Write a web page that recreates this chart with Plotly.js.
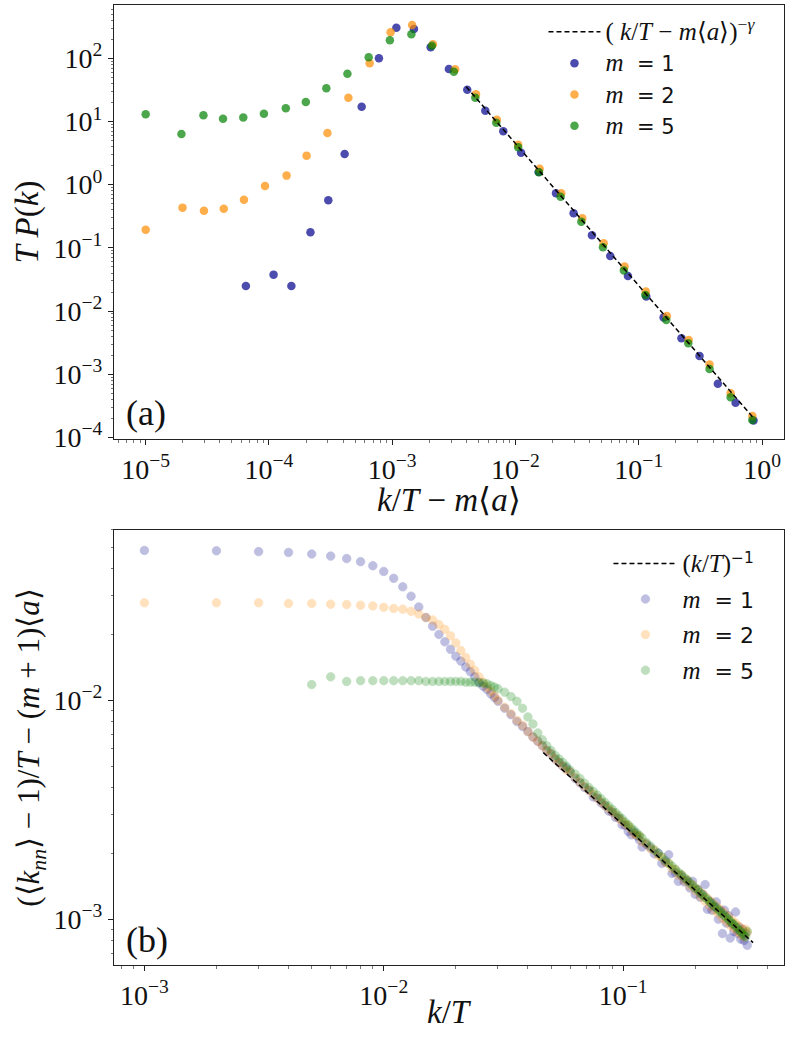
<!DOCTYPE html>
<html>
<head>
<meta charset="utf-8">
<script src="https://cdn.plot.ly/plotly-3.0.1.min.js"></script>
<style>
  body { margin: 0; background: #fff; }
  #plot { width: 794px; height: 1039px; }
</style>
</head>
<body>
<div id="plot"></div>
<script>
// ---- panel (a): T P(k) against k/T - m<a> ----
var xA1 = [6.5e-5, 1.09e-4, 1.52e-4, 2.17e-4, 3.03e-4, 4.11e-4, 5.65e-4, 7.80e-4, 1.08e-3, 1.50e-3,
           2.05e-3, 2.88e-3, 4.06e-3, 5.69e-3, 7.96e-3, 1.11e-2, 1.54e-2, 2.13e-2, 2.96e-2, 4.17e-2,
           5.87e-2, 8.17e-2, 0.115, 0.159, 0.222, 0.311, 0.438, 0.610, 0.853];
var yA1 = [0.0249, 0.0377, 0.0249, 0.177, 0.566, 3.06, 17.1, 100, 305, 291,
           149, 67.6, 31.8, 14.8, 7.0, 3.21, 1.58, 0.731, 0.353, 0.158,
           0.0745, 0.0359, 0.0170, 0.00794, 0.00372, 0.00195, 7.08e-4, 3.55e-4, 1.86e-4];

var xA2 = [1.0e-5, 1.99e-5, 2.97e-5, 4.30e-5, 6.27e-5, 9.29e-5, 1.39e-4, 2.02e-4, 2.98e-4, 4.41e-4,
           6.56e-4, 9.70e-4, 1.45e-3, 2.14e-3, 3.24e-3, 4.78e-3, 7.06e-3, 1.05e-2, 1.57e-2, 2.35e-2,
           3.48e-2, 5.19e-2, 7.67e-2, 0.114, 0.169, 0.254, 0.375, 0.556, 0.834];
var yA2 = [0.194, 0.433, 0.388, 0.417, 0.579, 0.955, 1.39, 2.88, 6.58, 23.8,
           83.4, 258, 337, 167, 67.0, 26.9, 10.6, 4.30, 1.79, 0.731,
           0.294, 0.118, 0.0505, 0.0203, 0.00836, 0.00349, 0.00142, 5.01e-4, 2.19e-4];

var xA5 = [1.0e-5, 1.95e-5, 2.94e-5, 4.24e-5, 6.19e-5, 9.1e-5, 1.37e-4, 1.99e-4, 2.92e-4, 4.33e-4,
           6.44e-4, 9.57e-4, 1.43e-3, 2.10e-3, 3.16e-3, 4.72e-3, 6.98e-3, 1.05e-2, 1.55e-2, 2.32e-2,
           3.42e-2, 5.12e-2, 7.57e-2, 0.113, 0.167, 0.252, 0.375, 0.556, 0.834];
var yA5 = [13.0, 6.34, 12.5, 11.0, 11.6, 13.3, 16.2, 20.4, 33.5, 57.0,
           104, 193, 240, 158, 61.4, 23.8, 9.57, 3.91, 1.57, 0.646,
           0.260, 0.102, 0.0437, 0.0180, 0.00724, 0.00309, 0.00121, 4.33e-4, 1.89e-4];

// dashed power law, ends
var fitAx = [0.00398, 0.835];
var fitAy = [35.5, 2.13e-4];

// ---- panel (b): (<k_nn> - 1)/T - (m+1)<a> against k/T ----
var T = 1000;
var kB12 = [1, 2, 3, 4, 5, 6, 7, 8, 9, 10, 11, 12, 13, 14, 15, 16, 17, 18, 19, 20,
            21, 22, 23, 24, 25, 26, 27, 28, 29, 30,
            32, 34, 36, 38, 40, 42, 44, 46, 48, 50, 52, 54, 56, 58, 60,
            63, 66, 69, 72, 75, 78, 81, 84, 87, 90, 93, 96, 99, 102, 105, 108, 111, 114, 117, 120,
            125, 130, 135, 140, 145, 150, 155, 160, 165, 170, 175, 180, 185, 190, 195, 200, 205, 210, 215, 220,
            225, 230, 235, 240, 245, 250, 255, 260, 265, 270, 275, 280, 285, 290, 295, 300, 305, 310, 315, 320,
            325, 330];
var yB1 = [0.0484, 0.0482, 0.0478, 0.0474, 0.0466, 0.0456, 0.0444, 0.0430, 0.0412, 0.0388,
           0.0361, 0.0330, 0.0299, 0.0267, 0.0239, 0.0218, 0.0200, 0.0185, 0.0171, 0.0159,
           0.0151, 0.0142, 0.0135, 0.0128, 0.0121, 0.0116, 0.0112, 0.0107, 0.0103, 0.0099,
           0.0092, 0.0086, 0.0080, 0.0076, 0.0072, 0.0068, 0.0065, 0.0062, 0.0059, 0.0057,
           0.0054, 0.0052, 0.0050, 0.0049, 0.0047,
           0.00440, 0.00420, 0.00400, 0.00388, 0.00362, 0.00358, 0.00340, 0.00330, 0.00312, 0.00308,
           0.00292, 0.00289, 0.00270, 0.00268, 0.00252, 0.00243, 0.00250, 0.00240, 0.00230, 0.00214,
           0.00220, 0.00212, 0.00199, 0.00201, 0.00180, 0.00183, 0.00197, 0.00162, 0.00163, 0.00149,
           0.00158, 0.00148, 0.00150, 0.00139, 0.00149, 0.00130, 0.00137, 0.00126, 0.00130, 0.00144,
           0.00111, 0.00121, 0.00110, 0.00114, 0.00120, 0.00100, 0.00110, 0.00086, 0.00110, 0.00096,
           0.00104, 0.00082, 0.00095, 0.00088, 0.00108, 0.00086, 0.00092, 0.00081, 0.00090, 0.00080,
           0.00086, 0.00076];
var yB2 = [0.0279, 0.0279, 0.0279, 0.0277, 0.0277, 0.0275, 0.0274, 0.0272, 0.0270, 0.0266,
           0.0263, 0.0261, 0.0255, 0.0248, 0.0239, 0.0233, 0.0222, 0.0211, 0.0197, 0.0183,
           0.0169, 0.0157, 0.0146, 0.0137, 0.0128, 0.0121, 0.0115, 0.0110, 0.0105, 0.0100,
           0.0093, 0.0087, 0.0081, 0.0077, 0.0072, 0.0068, 0.0065, 0.0062, 0.0059, 0.0057,
           0.0054, 0.0052, 0.0050, 0.0048, 0.0047,
           0.00444, 0.00423, 0.00404, 0.00388, 0.00372, 0.00357, 0.00344, 0.00331, 0.00320, 0.00310,
           0.00300, 0.00290, 0.00281, 0.00272, 0.00268, 0.00257, 0.00245, 0.00243, 0.00240, 0.00226,
           0.00221, 0.00210, 0.00207, 0.00195, 0.00192, 0.00181, 0.00180, 0.00170, 0.00169, 0.00159,
           0.00160, 0.00150, 0.00152, 0.00142, 0.00144, 0.00135, 0.00137, 0.00127, 0.00131, 0.00121,
           0.00125, 0.00115, 0.00120, 0.00110, 0.00115, 0.00106, 0.00111, 0.00101, 0.00107, 0.00098,
           0.00103, 0.00094, 0.00099, 0.00091, 0.00096, 0.00088, 0.00093, 0.00085, 0.00090, 0.00083,
           0.00090, 0.00087];

var kB5 = [5, 6, 7, 8, 9, 10, 11, 12, 13, 14, 15, 16, 17, 18, 19, 20,
           21, 22, 23, 24, 25, 26, 27, 28, 29, 30,
           32, 34, 36, 38, 40, 42, 44, 46, 48, 50, 52, 54, 56, 58, 60,
           63, 66, 69, 72, 75, 78, 81, 84, 87, 90, 93, 96, 99, 102, 105, 108, 111, 114, 117, 120,
           125, 130, 135, 140, 145, 150, 155, 160, 165, 170, 175, 180, 185, 190, 195, 200, 205, 210, 215, 220,
           225, 230, 235, 240, 245, 250, 255, 260, 265, 270, 275, 280, 285, 290, 295, 300, 305, 310, 315, 320,
           325, 330];
var yB5 = [0.0118, 0.0128, 0.0122, 0.0123, 0.0123, 0.0123, 0.0123, 0.0123, 0.0123, 0.0123,
           0.0122, 0.0122, 0.0122, 0.0122, 0.0122, 0.0122, 0.0122, 0.0121, 0.0121, 0.0121,
           0.0120, 0.0120, 0.0119, 0.0117, 0.0115, 0.0113,
           0.0109, 0.0104, 0.0099, 0.0092, 0.0084, 0.0078, 0.0071, 0.0066, 0.0062, 0.0059,
           0.0056, 0.0054, 0.0052, 0.0050, 0.0048,
           0.00460, 0.00440, 0.00418, 0.00400, 0.00384, 0.00369, 0.00355, 0.00341, 0.00329, 0.00318,
           0.00307, 0.00297, 0.00288, 0.00278, 0.00270, 0.00262, 0.00255, 0.00248, 0.00241, 0.00235,
           0.00224, 0.00216, 0.00207, 0.00200, 0.00193, 0.00186, 0.00180, 0.00175, 0.00169, 0.00164,
           0.00160, 0.00155, 0.00151, 0.00147, 0.00143, 0.00139, 0.00136, 0.00132, 0.00129, 0.00126,
           0.00123, 0.00120, 0.00118, 0.00115, 0.00113, 0.00110, 0.00108, 0.00106, 0.00104, 0.00102,
           0.00100, 0.00098, 0.00096, 0.00095, 0.00093, 0.00091, 0.00089, 0.00088, 0.00086, 0.00084,
           0.00083, 0.00088];

var fitBx = [0.0464, 0.349];
var fitBy = [0.00577, 0.000782];

// tick labels
var tickAx = [1e-5, 1e-4, 1e-3, 1e-2, 1e-1, 1];
var labAx = ['10<sup>\u22125</sup>', '10<sup>\u22124</sup>', '10<sup>\u22123</sup>',
             '10<sup>\u22122</sup>', '10<sup>\u22121</sup>', '10<sup>0</sup>'];
var tickAy = [1e-4, 1e-3, 1e-2, 1e-1, 1, 10, 100];
var labAy = ['10<sup>\u22124</sup>', '10<sup>\u22123</sup>', '10<sup>\u22122</sup>',
             '10<sup>\u22121</sup>', '10<sup>0</sup>', '10<sup>1</sup>', '10<sup>2</sup>'];
var tickBx = [1e-3, 1e-2, 1e-1];
var labBx = ['10<sup>\u22123</sup>', '10<sup>\u22122</sup>', '10<sup>\u22121</sup>'];
var tickBy = [1e-3, 1e-2];
var labBy = ['10<sup>\u22123</sup>', '10<sup>\u22122</sup>'];

function minorTicks(lo, hi) {
    var out = [];
    for (var e = lo; e <= hi; e++) {
        for (var j = 2; j <= 9; j++) out.push(j * Math.pow(10, e));
    }
    return out;
}
function overT(ks) {
    return ks.map(function(k) { return k / T; });
}

var serif = 'Liberation Serif';
var sans = 'DejaVu Sans';
function mLabel(n) {
    return '<span style="font-family:Liberation Serif;font-size:25px"><i>m</i></span>\u00a0\u00a0= ' + n;
}

var blue = 'darkblue', orange = 'darkorange', green = 'green';

var data = [
    { x: xA1, y: yA1, type: 'scatter', mode: 'markers', name: mLabel(1), legend: 'legend',
      legendgroup: 'a1', legendrank: 2,
      marker: { color: blue, size: 8.5, opacity: 0.7, line: { width: 0 } } },
    { x: xA2, y: yA2, type: 'scatter', mode: 'markers', name: mLabel(2), legend: 'legend',
      legendgroup: 'a2', legendrank: 3,
      marker: { color: orange, size: 8.5, opacity: 0.7, line: { width: 0 } } },
    { x: xA5, y: yA5, type: 'scatter', mode: 'markers', name: mLabel(5), legend: 'legend',
      legendgroup: 'a5', legendrank: 4,
      marker: { color: green, size: 8.5, opacity: 0.7, line: { width: 0 } } },
    { x: fitAx, y: fitAy, type: 'scatter', mode: 'lines', legend: 'legend', legendgroup: 'a0', legendrank: 1,
      name: '<span style="font-family:Liberation Serif;font-size:25px">( <i>k</i>/<i>T</i> \u2212 <i>m</i>\u27e8<i>a</i>\u27e9)<sup>\u2212<i>\u03b3</i></sup></span>',
      line: { color: 'black', width: 1.5, dash: '5px,3px' } },

    { x: overT(kB12), y: yB1, xaxis: 'x2', yaxis: 'y2', type: 'scatter', mode: 'markers',
      name: mLabel(1), legend: 'legend2', legendgroup: 'b1', legendrank: 2,
      marker: { color: blue, size: 8.5, opacity: 0.25, line: { color: blue, width: 0.8 } } },
    { x: overT(kB12), y: yB2, xaxis: 'x2', yaxis: 'y2', type: 'scatter', mode: 'markers',
      name: mLabel(2), legend: 'legend2', legendgroup: 'b2', legendrank: 3,
      marker: { color: orange, size: 8.5, opacity: 0.25, line: { color: orange, width: 0.8 } } },
    { x: overT(kB5), y: yB5, xaxis: 'x2', yaxis: 'y2', type: 'scatter', mode: 'markers',
      name: mLabel(5), legend: 'legend2', legendgroup: 'b5', legendrank: 4,
      marker: { color: green, size: 8.5, opacity: 0.25, line: { color: green, width: 0.8 } } },
    { x: fitBx, y: fitBy, xaxis: 'x2', yaxis: 'y2', type: 'scatter', mode: 'lines',
      legend: 'legend2', legendgroup: 'b0', legendrank: 1,
      name: '<span style="font-family:Liberation Serif;font-size:25px">(<i>k</i>/<i>T</i>)</span><sup>\u22121</sup>',
      line: { color: 'black', width: 1.5, dash: '5px,3px' } }
];

function logAxis(range, tv, tt, minor, extra) {
    var ax = {
        type: 'log', range: range, tickmode: 'array', tickvals: tv, ticktext: tt,
        ticks: 'outside', ticklen: 5, tickwidth: 1, tickcolor: '#222',
        showline: true, mirror: true, linecolor: '#222', linewidth: 1,
        showgrid: false, zeroline: false,
        tickfont: { family: serif, size: 28, color: '#111' },
        minor: { tickmode: 'array', tickvals: minor, ticks: 'outside', ticklen: 2.5,
                 tickwidth: 0.8, tickcolor: '#555', showgrid: false }
    };
    for (var p in extra) ax[p] = extra[p];
    return ax;
}

var titleFont = { family: serif, size: 33, color: '#111' };

var layout = {
    width: 794, height: 1039,
    margin: { l: 114, r: 10, t: 5, b: 74 },
    paper_bgcolor: '#fff', plot_bgcolor: '#fff',
    showlegend: true,
    xaxis: logAxis([-5.257, 0.178], tickAx, labAx, minorTicks(-6, 0), {
        anchor: 'y', domain: [0, 1]
    }),
    yaxis: logAxis([-4.025, 2.843], tickAy, labAy, minorTicks(-5, 2), {
        anchor: 'x', domain: [0.5479, 1],
        title: { text: '<i>T P</i>(<i>k</i>)', standoff: 4, font: titleFont }
    }),
    xaxis2: logAxis([-3.127, -0.328], tickBx, labBx, minorTicks(-4, -1), {
        anchor: 'y2', domain: [0, 1]
    }),
    yaxis2: logAxis([-3.209, -1.222], tickBy, labBy, minorTicks(-4, -2), {
        anchor: 'x2', domain: [0, 0.4531],
        title: { text: '(\u27e8<i>k</i><sub><i>nn</i></sub>\u27e9 \u2212 1)/<i>T</i> \u2212 (<i>m</i> + 1)\u27e8<i>a</i>\u27e9',
                 standoff: 4, font: { family: serif, size: 31, color: '#111' } }
    }),
    legend: {
        x: 0.641, y: 0.993, xanchor: 'left', yanchor: 'top',
        bgcolor: 'rgba(0,0,0,0)', borderwidth: 0,
        font: { family: sans, size: 21, color: '#111' },
        traceorder: 'grouped', tracegroupgap: 1, itemwidth: 52
    },
    legend2: {
        x: 0.738, y: 0.44, xanchor: 'left', yanchor: 'top',
        bgcolor: 'rgba(0,0,0,0)', borderwidth: 0,
        font: { family: sans, size: 22, color: '#111' },
        traceorder: 'grouped', tracegroupgap: 4, itemwidth: 64
    },
    annotations: [
        // x-axis titles
        { text: '<i>k</i>/<i>T</i> \u2212 <i>m</i>\u27e8<i>a</i>\u27e9', xref: 'paper', yref: 'paper',
          x: 0.5, y: 0.484, xanchor: 'center', yanchor: 'middle', showarrow: false, font: titleFont },
        { text: '<i>k</i>/<i>T</i>', xref: 'paper', yref: 'paper',
          x: 0.5, y: -0.049, xanchor: 'center', yanchor: 'middle', showarrow: false, font: titleFont },
        // panel labels
        { text: '(a)', xref: 'paper', yref: 'paper', x: 0.048, y: 0.575,
          xanchor: 'center', yanchor: 'middle', showarrow: false,
          font: { family: serif, size: 36, color: '#111' } },
        { text: '(b)', xref: 'paper', yref: 'paper', x: 0.049, y: 0.026,
          xanchor: 'center', yanchor: 'middle', showarrow: false,
          font: { family: serif, size: 36, color: '#111' } }
    ]
};

Plotly.newPlot('plot', data, layout, { staticPlot: true });
</script>
</body>
</html>
